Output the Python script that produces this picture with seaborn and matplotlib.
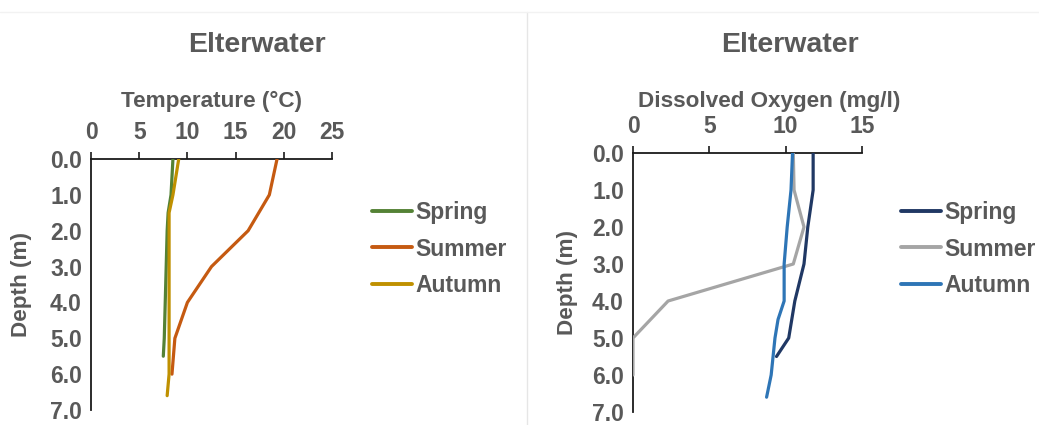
import matplotlib
matplotlib.use("Agg")
import matplotlib.pyplot as plt
from matplotlib.lines import Line2D
from matplotlib.ticker import FormatStrFormatter, MultipleLocator
import seaborn as sns
import pandas as pd

# ---------------- data ----------------
seasons = ["Spring", "Summer", "Autumn"]

spring_temp_depth = [0, 1, 1.5, 2, 3, 4, 5, 5.5]
spring_temp = [8.5, 8.3, 8.0, 7.9, 7.8, 7.7, 7.6, 7.5]
summer_temp_depth = [0, 1, 2, 3, 4, 5, 6]
summer_temp = [19.3, 18.5, 16.3, 12.5, 10.0, 8.7, 8.4]
autumn_temp_depth = [0, 1, 1.5, 2, 3, 4, 5, 6, 6.6]
autumn_temp = [9.1, 8.5, 8.1, 8.1, 8.1, 8.1, 8.1, 8.1, 7.9]

spring_do_depth = [0, 1, 2, 3, 4, 5, 5.5]
spring_do = [11.8, 11.8, 11.45, 11.2, 10.6, 10.2, 9.4]
summer_do_depth = [0, 1, 2, 3, 4, 5, 6]
summer_do = [10.5, 10.55, 11.2, 10.5, 2.3, 0.0, 0.0]
autumn_do_depth = [0, 1, 2, 3, 4, 4.5, 5, 6, 6.6]
autumn_do = [10.45, 10.35, 10.1, 9.9, 9.9, 9.5, 9.3, 9.05, 8.75]

title_text = "Elterwater"
temp_label = "Temperature (°C)"
do_label = "Dissolved Oxygen (mg/l)"
depth_label = "Depth (m)"

temp_colors = {"Spring": "#548235", "Summer": "#C55A11", "Autumn": "#BF9000"}
do_colors = {"Spring": "#203864", "Summer": "#A5A5A5", "Autumn": "#2E75B6"}


def build(series):
    frames = []
    for name, depth, val in series:
        frames.append(pd.DataFrame({"Depth": depth, "Value": val, "Season": name}))
    return pd.concat(frames, ignore_index=True)


temp_df = build([("Spring", spring_temp_depth, spring_temp),
                 ("Summer", summer_temp_depth, summer_temp),
                 ("Autumn", autumn_temp_depth, autumn_temp)])
do_df = build([("Spring", spring_do_depth, spring_do),
               ("Summer", summer_do_depth, summer_do),
               ("Autumn", autumn_do_depth, autumn_do)])

# ---------------- style ----------------
sns.set_style("white")
plt.rcParams["font.family"] = ["Liberation Sans", "DejaVu Sans"]
TXT = "#595959"
AX = "#1a1a1a"

fig = plt.figure(figsize=(10.39, 4.25), dpi=100)
W, H = 1039, 425


def px_axes(x0, x1, ytop, ybot):
    return fig.add_axes([x0 / W, 1 - ybot / H, (x1 - x0) / W, (ybot - ytop) / H])


ax1 = px_axes(91, 332, 159, 410)
ax2 = px_axes(633, 862, 153, 412)


def style(ax, df, colors, xmax, xlabel, xlab_x, xlab_y, leg_x):
    sns.lineplot(data=df, x="Value", y="Depth", hue="Season", hue_order=seasons,
                 palette=colors, orient="y", sort=False, estimator=None,
                 linewidth=2.3, ax=ax, legend=True, zorder=3)
    ax.set_xlim(0, xmax)
    ax.set_ylim(7, 0)
    ax.xaxis.set_major_locator(MultipleLocator(5))
    ax.yaxis.set_major_locator(MultipleLocator(1))
    ax.yaxis.set_major_formatter(FormatStrFormatter("%.1f"))
    ax.xaxis.tick_top()
    ax.xaxis.set_label_position("top")
    for s in ["right", "bottom"]:
        ax.spines[s].set_visible(False)
    for s in ["left", "top"]:
        ax.spines[s].set_color(AX)
        ax.spines[s].set_linewidth(1.3)
    ax.tick_params(axis="both", direction="out", length=5, width=1.2, color=AX,
                   labelsize=16.5, labelcolor=TXT)
    ax.tick_params(axis="x", pad=6)
    ax.tick_params(axis="y", pad=1.5)
    for lab in ax.get_xticklabels() + ax.get_yticklabels():
        lab.set_fontweight("bold")
    ax.set_xlabel(xlabel, fontsize=16.2, fontweight="bold", color=TXT)
    ax.xaxis.label.set_va("center")
    ax.xaxis.set_label_coords(xlab_x, xlab_y)
    ax.set_ylabel(depth_label, fontsize=16.2, fontweight="bold", color=TXT)
    ax.yaxis.label.set_va("center")
    ax.yaxis.set_label_coords(-0.287, 0.5)
    leg = ax.legend(loc="center left", bbox_to_anchor=(leg_x / W, 1 - 249 / H),
                    bbox_transform=fig.transFigure, frameon=False, fontsize=16.5,
                    handlelength=1.75, handletextpad=0.15, labelspacing=0.6,
                    borderpad=0, borderaxespad=0)
    for t in leg.get_texts():
        t.set_color(TXT)
        t.set_fontweight("bold")
    for h in leg.get_lines():
        h.set_linewidth(2.8)


style(ax1, temp_df, temp_colors, 25, temp_label, 0.5, 1.231, 372)
style(ax2, do_df, do_colors, 15, do_label, 0.594, 1.2, 901)

fig.text(257 / W, 1 - 45 / H, title_text, ha="center", va="center",
         fontsize=20.5, fontweight="bold", color=TXT)
fig.text(790 / W, 1 - 45 / H, title_text, ha="center", va="center",
         fontsize=20.5, fontweight="bold", color=TXT)

# panel separators
fig.add_artist(Line2D([527 / W, 527 / W], [0, 1 - 12 / H], color="#e6e6e6", lw=1))
fig.add_artist(Line2D([0, 1], [1 - 12 / H, 1 - 12 / H], color="#f2f2f2", lw=1))

fig.savefig("out.png", dpi=100)
